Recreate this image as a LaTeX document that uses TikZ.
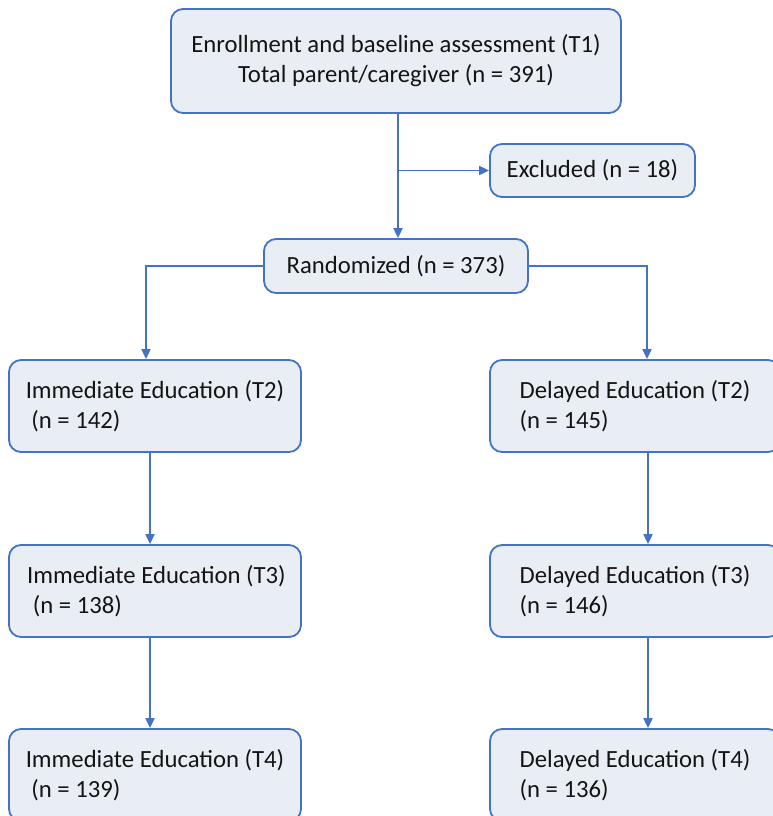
\documentclass[tikz,border=0pt]{standalone}
\usepackage{fontspec}
\setmainfont{Carlito}
\usetikzlibrary{arrows.meta,calc}
\definecolor{boxblue}{RGB}{68,114,196}
\definecolor{boxfill}{RGB}{233,238,244}
\definecolor{txt}{RGB}{20,20,20}
\tikzset{
  box/.style={draw=boxblue, fill=boxfill, line width=1.8pt, rounded corners=12pt,
    text=txt, font=\fontsize{24.7}{30}\selectfont, inner sep=0pt},
  lbox/.style={box, minimum width=292pt, minimum height=92pt, align=left},
  rbox/.style={box, minimum width=290pt, minimum height=92pt, align=left},
  arr/.style={draw=boxblue, line width=1.9pt, -{Triangle[length=10pt,width=9pt]}}
}
\begin{document}
\begin{tikzpicture}[x=1pt,y=-1pt]
\useasboundingbox (0,0) rectangle (773,816);
\clip (0,0) rectangle (773,816);
\node[box, minimum width=450pt, minimum height=104pt, align=center] (top) at (396,61)
  {Enrollment and baseline assessment (T1)\\Total parent/caregiver (n = 391)};
\node[box, minimum width=205pt, minimum height=53pt] (excl) at (592.5,170.5) {Excluded (n = 18)};
\node[box, minimum width=264pt, minimum height=54pt] (rand) at (396,266) {Randomized (n = 373)};
\node[lbox] (L2) at (155,406) {Immediate Education (T2)\\\hspace*{0.23em}(n = 142)};
\node[lbox] (L3) at (155,591) {\hspace*{0.12em}Immediate Education (T3)\\\hspace*{0.35em}(n = 138)};
\node[lbox] (L4) at (155,775) {Immediate Education (T4)\\\hspace*{0.23em}(n = 139)};
\node[rbox] (R2) at (635,406) {Delayed Education (T2)\\(n = 145)};
\node[rbox] (R3) at (635,591) {Delayed Education (T3)\\(n = 146)};
\node[rbox] (R4) at (635,775) {Delayed Education (T4)\\(n = 136)};
\coordinate (br) at ($(top.south)+(2,0)$);
\coordinate (bx) at (br |- excl.west);
\draw[arr] (br) -- (br |- rand.north);
\draw[arr] (bx) -- (excl.west);
\draw[arr] (rand.west) -| ($(L2.north)+(-9,0)$);
\draw[arr] (rand.east) -| ($(R2.north)+(12,0)$);
\draw[arr] ($(L2.south)+(-5,0)$) -- ($(L3.north)+(-5,0)$);
\draw[arr] ($(L3.south)+(-5,0)$) -- ($(L4.north)+(-5,0)$);
\draw[arr] ($(R2.south)+(13,0)$) -- ($(R3.north)+(13,0)$);
\draw[arr] ($(R3.south)+(13,0)$) -- ($(R4.north)+(13,0)$);
\end{tikzpicture}
\end{document}
